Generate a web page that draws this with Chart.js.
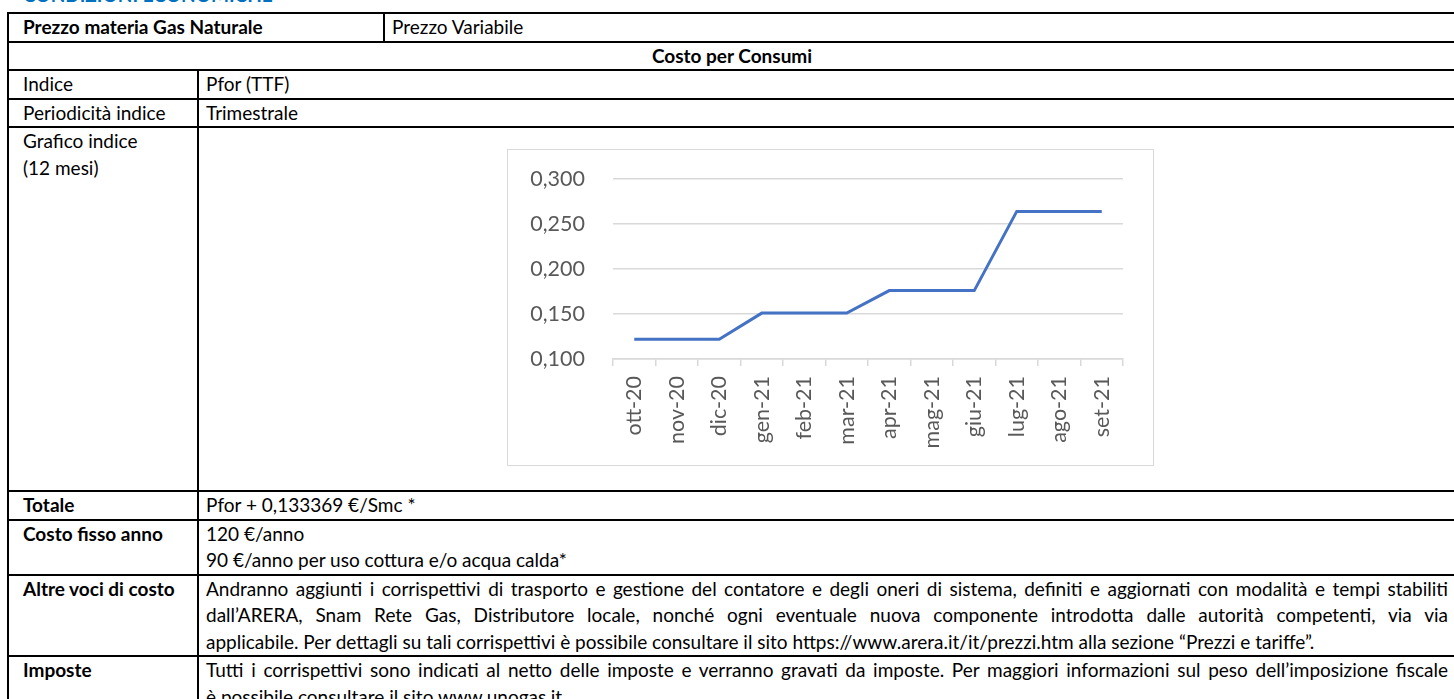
<!DOCTYPE html>
<html lang="it">
<head>
    <meta charset="UTF-8">
    <title>Condizioni economiche - Gas Naturale</title>
    <style>
        body {
            margin: 0;
            background: #fff;
            font-family: Lato, 'Liberation Sans', sans-serif;
            font-size: 19px;
            color: #000;
            width: 1454px;
            height: 699px;
            overflow: hidden;
            position: relative;
        }
        .titolo {
            position: absolute;
            left: 23px;
            top: -15px;
            font-weight: bold;
            color: #0070C0;
            line-height: 19px;
        }
        table {
            position: absolute;
            left: 7px;
            top: 12px;
            width: 1450px;
            border-collapse: collapse;
            table-layout: fixed;
        }
        td {
            border: 2px solid #000;
            padding: 0 7px;
            line-height: 26.5px;
            vertical-align: top;
            white-space: nowrap;
        }
        td.lab { padding-left: 14px; }
        .b { font-weight: bold; }
        .c { text-align: center; }
        .j {
            display: block;
            text-align: justify;
            text-align-last: justify;
        }
        .riga { display: block; }
        #boxGrafico {
            position: absolute;
            left: 507px;
            top: 149px;
            width: 645px;
            height: 315px;
            border: 1px solid #d9d9d9;
            background: #fff;
        }
    </style>
</head>
<body>
    <div class="titolo">CONDIZIONI ECONOMICHE</div>
    <table>
        <colgroup>
            <col style="width:190px">
            <col style="width:186px">
            <col>
        </colgroup>
        <tr style="height:28px">
            <td class="lab b" colspan="2">Prezzo materia Gas Naturale</td>
            <td>Prezzo Variabile</td>
        </tr>
        <tr style="height:27px">
            <td class="b c" colspan="3">Costo per Consumi</td>
        </tr>
        <tr style="height:28px">
            <td class="lab">Indice</td>
            <td colspan="2">Pfor (TTF)</td>
        </tr>
        <tr style="height:28px">
            <td class="lab">Periodicità indice</td>
            <td colspan="2">Trimestrale</td>
        </tr>
        <tr style="height:364px">
            <td class="lab">Grafico indice<br>(12 mesi)</td>
            <td colspan="2"></td>
        </tr>
        <tr style="height:28px">
            <td class="lab b">Totale</td>
            <td colspan="2">Pfor + 0,133369 €/Smc *</td>
        </tr>
        <tr style="height:52px">
            <td class="lab b">Costo fisso anno</td>
            <td colspan="2">120 €/anno<br>90 €/anno per uso cottura e/o acqua calda*</td>
        </tr>
        <tr style="height:77px">
            <td class="lab b">Altre voci di costo</td>
            <td colspan="2">
                <span class="j">Andranno aggiunti i corrispettivi di trasporto e gestione del contatore e degli oneri di sistema, definiti e aggiornati con modalità e tempi stabiliti</span>
                <span class="j">dall’ARERA, Snam Rete Gas, Distributore locale, nonché ogni eventuale nuova componente introdotta dalle autorità competenti, via via</span>
                <span class="riga">applicabile. Per dettagli su tali corrispettivi è possibile consultare il sito https://www.arera.it/it/prezzi.htm alla sezione “Prezzi e tariffe”.</span>
            </td>
        </tr>
        <tr style="height:60px">
            <td class="lab b">Imposte</td>
            <td colspan="2">
                <span class="j">Tutti i corrispettivi sono indicati al netto delle imposte e verranno gravati da imposte. Per maggiori informazioni sul peso dell’imposizione fiscale</span>
                <span class="riga">è possibile consultare il sito www.unogas.it</span>
            </td>
        </tr>
    </table>

    <div id="boxGrafico"><canvas id="graficoIndice"></canvas></div>

    <script src="https://cdn.jsdelivr.net/npm/chart.js"></script>
    <script>
        // valori (€/Smc)
        const mesi = ['ott-20', 'nov-20', 'dic-20', 'gen-21', 'feb-21', 'mar-21',
                      'apr-21', 'mag-21', 'giu-21', 'lug-21', 'ago-21', 'set-21'];
        const valoriPfor = [0.122, 0.122, 0.122, 0.151, 0.151, 0.151,
                            0.176, 0.176, 0.176, 0.264, 0.264, 0.264];
        const yMin = 0.1;
        const yMax = 0.3;
        const yPasso = 0.05;

        const grigioTesto = '#595959';
        const grigioLinee = '#d9d9d9';

        Chart.defaults.font.family = 'Lato, "Liberation Sans", sans-serif';
        Chart.defaults.font.size = 21.5;
        Chart.defaults.color = grigioTesto;

        new Chart(document.getElementById('graficoIndice'), {
            type: 'line',
            data: {
                labels: mesi,
                datasets: [{
                    label: 'Pfor',
                    data: valoriPfor,
                    borderColor: '#4472C4',
                    borderWidth: 3,
                    pointRadius: 0,
                    tension: 0,
                    fill: false
                }]
            },
            options: {
                responsive: true,
                maintainAspectRatio: false,
                animation: false,
                layout: { padding: { left: 0, right: 30, top: 29, bottom: 0 } },
                plugins: {
                    legend: { display: false },
                    tooltip: { enabled: false }
                },
                scales: {
                    x: {
                        offset: true,
                        grid: {
                            offset: true,
                            drawOnChartArea: false,
                            drawTicks: true,
                            tickLength: 7,
                            color: grigioLinee,
                            lineWidth: 1.5
                        },
                        border: { color: grigioLinee, width: 1.5 },
                        ticks: {
                            autoSkip: false,
                            minRotation: 90,
                            maxRotation: 90,
                            padding: 10
                        },
                        afterFit: (scale) => { scale.height = 106; }
                    },
                    y: {
                        min: yMin,
                        max: yMax,
                        // spazio tra etichette e griglia fatto con tick invisibili
                        grid: {
                            color: grigioLinee,
                            lineWidth: 1.5,
                            drawTicks: true,
                            tickLength: 28,
                            tickColor: 'rgba(0,0,0,0)'
                        },
                        border: { display: false },
                        ticks: {
                            stepSize: yPasso,
                            padding: 0,
                            callback: (v) => v.toFixed(3).replace('.', ',')
                        },
                        afterFit: (scale) => { scale.width = 105; }
                    }
                }
            }
        });
    </script>
</body>
</html>
